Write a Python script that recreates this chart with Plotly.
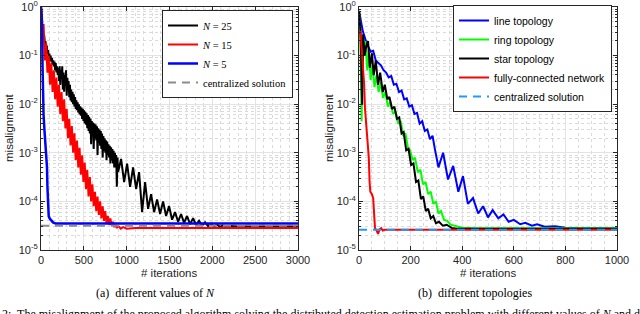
import plotly.graph_objects as go

# ---------------- Left panel: different values of N ----------------
n25_x = [0, 8, 15, 22, 30, 38, 45, 52, 60, 68, 75, 82, 90, 98, 105, 112, 120, 128, 135, 142,
         150, 158, 165, 172, 180, 188, 195, 202, 210, 218, 225, 232, 240, 248, 255, 262, 270, 278, 285, 292,
         300, 308, 315, 322, 330, 338, 345, 352, 360, 368, 375, 383, 390, 398, 405, 413, 420, 428, 435, 443,
         450, 458, 465, 473, 480, 488, 495, 503, 510, 518, 525, 533, 540, 548, 555, 563, 570, 578, 585, 593,
         600, 608, 615, 623, 630, 638, 645, 653, 660, 668, 675, 683, 690, 698, 705, 713, 720, 728, 735, 743,
         750, 758, 765, 773, 780, 788, 795, 803, 810, 818, 825, 833, 840, 848, 855, 863, 870, 878, 885, 893,
         900, 935, 970, 1005, 1040, 1075, 1110, 1145, 1180, 1215, 1250, 1285, 1320, 1355, 1390, 1425, 1460,
         1495, 1530, 1565, 1600, 1635, 1670, 1705, 1740, 1775, 1810, 1845, 1880, 1915, 1950, 1985, 2020,
         2055, 2090, 2125, 2160, 2200, 2300, 3000]
n25_y = [1.0, 0.45, 0.3, 0.35, 0.22, 0.26, 0.17, 0.2, 0.13, 0.16, 0.11, 0.13, 0.095, 0.11, 0.08, 0.1, 0.075, 0.09, 0.065, 0.08,
         0.06, 0.075, 0.05, 0.07, 0.045, 0.06, 0.04, 0.055, 0.03, 0.06, 0.025, 0.05, 0.035, 0.06, 0.02, 0.045, 0.018, 0.04, 0.03, 0.05,
         0.015, 0.035, 0.02, 0.03, 0.014, 0.025, 0.012, 0.02, 0.011, 0.018, 0.01, 0.016, 0.009, 0.014, 0.008, 0.012, 0.0075, 0.011, 0.0068, 0.01,
         0.0062, 0.009, 0.0058, 0.0085, 0.005, 0.008, 0.0045, 0.0075, 0.004, 0.007, 0.0038, 0.0065, 0.0032, 0.006, 0.0028, 0.0055, 0.0025, 0.005, 0.0015, 0.0045,
         0.0022, 0.0042, 0.0012, 0.004, 0.002, 0.0038, 0.0018, 0.0035, 0.0009, 0.0032, 0.0016, 0.003, 0.0014, 0.0028, 0.0012, 0.0025, 0.0008, 0.0022, 0.0011, 0.002,
         0.001, 0.0018, 0.0007, 0.0017, 0.0009, 0.0015, 0.0008, 0.0014, 0.0006, 0.0013, 0.0007, 0.0012, 0.0006, 0.0011, 0.0005, 0.001, 0.0005, 0.0009, 0.0002, 0.0008,
         0.0004, 0.00075, 0.00025, 0.0006, 0.0002, 0.0005, 0.00018, 0.0004, 0.00006, 0.00025, 0.00007, 0.00014, 0.00006, 0.00011, 0.000055, 0.0001, 0.00005,
         0.00008, 0.000042, 0.00006, 0.000038, 0.000055, 0.000036, 0.00005, 0.000034, 0.000045, 0.000033, 0.00004, 0.000032, 0.000037, 0.000031, 0.000035, 0.0000305,
         0.000033, 0.00003, 0.000032, 0.00003, 0.000031, 0.0000305, 0.0000305]

n15_x = [0, 15, 30, 45, 60, 75, 90, 105, 120, 135, 150, 165, 180, 195, 210, 225, 240, 255, 270, 285,
         300, 315, 330, 345, 360, 375, 390, 405, 420, 435, 450, 465, 480, 495, 510, 525, 540, 555, 570, 585,
         600, 615, 630, 645, 660, 675, 690, 705, 720, 735, 750, 765, 780, 795, 810, 825, 840, 855, 870, 885,
         900, 930, 960, 1000, 1100, 3000]
n15_y = [1.0, 0.316, 0.447, 0.0794, 0.178, 0.0447, 0.1, 0.0251, 0.0708, 0.0178, 0.0501, 0.0126, 0.0355, 0.00891, 0.0251, 0.00631, 0.0178, 0.00447, 0.0126, 0.00316,
         0.00794, 0.002, 0.00501, 0.00141, 0.00355, 0.001, 0.00251, 0.000708, 0.00178, 0.000501, 0.00126, 0.000355, 0.000891, 0.000251, 0.000631, 0.000178, 0.000447, 0.000126, 0.000316, 0.0001,
         0.000224, 7.94e-5, 0.000158, 6.31e-5, 0.000126, 5.25e-5, 0.0001, 4.47e-5, 7.94e-5, 3.98e-5, 6.31e-5, 3.55e-5, 5.01e-5, 3.31e-5, 4.47e-5, 3.16e-5, 3.8e-5, 2.95e-5, 3.39e-5, 2.82e-5,
         3.16e-5, 2.75e-5, 2.95e-5, 2.75e-5, 2.82e-5, 2.82e-5]

n5_x = [0, 6, 12, 18, 23, 30, 40, 50, 60, 70, 75, 82, 90, 100, 120, 140, 170, 3000]
n5_y = [1.0, 0.7, 0.5, 0.06, 0.012, 0.006, 0.003, 0.0018, 0.0012, 0.0005, 0.0002, 0.00006, 0.00005, 0.000045, 0.00004, 0.000037, 0.000035, 0.000035]

cent_left_x = [0, 3000]
cent_left_y = [3.15e-5, 3.15e-5]

left_xticks = [0, 500, 1000, 1500, 2000, 2500, 3000]

# ---------------- Right panel: different topologies ----------------
line_x = [0, 15, 30, 45, 55, 65, 75, 85, 95, 105, 115, 125, 135, 145, 155, 165, 175, 185, 195, 205,
          215, 225, 235, 245, 255, 265, 275, 285, 295, 308, 326, 345, 365, 385, 403, 422, 442, 462, 481, 500,
          518, 540, 560, 580, 600, 625, 645, 670, 690, 720, 760, 800, 850, 1000]
line_y = [0.832, 0.316, 0.178, 0.120, 0.126, 0.0794, 0.0708, 0.0631, 0.0501, 0.0447, 0.0355, 0.038, 0.0251, 0.0263, 0.0178, 0.0191, 0.0126, 0.0132, 0.00891, 0.00955,
          0.00631, 0.00661, 0.00398, 0.00447, 0.00282, 0.00302, 0.00191, 0.00224, 0.00112, 0.000501, 0.001, 0.000282, 0.000537, 0.000158, 0.000331, 8.91e-5, 0.000117, 5.62e-5, 7.94e-5, 4.68e-5,
          6.61e-5, 4.47e-5, 5.37e-5, 3.8e-5, 4.17e-5, 3.39e-5, 3.63e-5, 3.16e-5, 3.39e-5, 3.02e-5, 3.09e-5, 2.88e-5, 2.82e-5, 2.78e-5]

ring_x = [0, 5, 10, 15, 20, 25, 32, 38, 45, 52, 60, 68, 76, 85, 93, 102, 112, 122, 132, 142,
          152, 162, 171, 180, 190, 198, 208, 217, 228, 238, 248, 258, 268, 278, 288, 298, 308, 318, 330, 342,
          355, 370, 400, 450, 1000]
ring_y = [0.794, 0.251, 0.00447, 0.158, 0.1, 0.2, 0.0501, 0.126, 0.0316, 0.0631, 0.0224, 0.0398, 0.0178, 0.0282, 0.0135, 0.0178, 0.00891, 0.0112, 0.00631, 0.00708,
          0.00398, 0.00447, 0.00224, 0.00251, 0.00126, 0.00112, 0.000708, 0.000794, 0.000398, 0.000447, 0.000224, 0.000251, 0.000141, 0.000158, 8.91e-5, 1e-4, 5.62e-5, 6.31e-5, 4.17e-5, 3.98e-5,
          3.31e-5, 3.16e-5, 2.88e-5, 2.8e-5, 2.8e-5]

star_x = [0, 6, 12, 16, 22, 28, 35, 42, 50, 57, 65, 74, 82, 92, 100, 110, 118, 128, 137, 147,
          156, 165, 173, 183, 192, 202, 211, 221, 230, 240, 249, 259, 268, 278, 288, 298, 310, 325, 340, 360,
          380, 1000]
star_y = [0.832, 0.316, 0.01, 0.275, 0.1, 0.158, 0.2, 0.0562, 0.112, 0.0398, 0.0794, 0.0251, 0.0447, 0.0178, 0.0251, 0.0126, 0.0141, 0.00794, 0.00891, 0.00501,
          0.00537, 0.00251, 0.00269, 0.00112, 0.0012, 0.000562, 0.000603, 0.000251, 0.000269, 0.000112, 0.000126, 6.31e-5, 7.08e-5, 4.47e-5, 5.01e-5, 3.55e-5, 3.8e-5, 3.16e-5, 3.31e-5, 2.82e-5,
          2.75e-5, 2.72e-5]

full_x = [0, 5, 10, 16, 20, 23, 27, 31, 35, 38, 41, 44, 50, 55, 58, 62, 68, 74, 80, 86, 92, 100, 1000]
full_y = [0.282, 0.316, 0.141, 0.0562, 0.0251, 0.00851, 0.00398, 0.00174, 0.001, 0.000794, 0.000251, 0.000158, 0.000141, 0.000117,
          6.31e-5, 2.82e-5, 2.51e-5, 2.14e-5, 2.69e-5, 2.82e-5, 2.51e-5, 2.6e-5, 2.6e-5]

cent_right_x = [0, 1000]
cent_right_y = [2.6e-5, 2.6e-5]

right_xticks = [0, 200, 400, 600, 800, 1000]

y_tickvals = [1e-5, 1e-4, 1e-3, 1e-2, 1e-1, 1]
y_ticktext = ["10<sup>-5</sup>", "10<sup>-4</sup>", "10<sup>-3</sup>", "10<sup>-2</sup>", "10<sup>-1</sup>", "10<sup>0</sup>"]

W, H = 640, 314
fig = go.Figure()

def add(x, y, name, color, width, xa, ya, legend, dash="solid"):
    fig.add_trace(go.Scatter(x=x, y=y, mode="lines", name=name, xaxis=xa, yaxis=ya, legend=legend,
                             line=dict(color=color, width=width, dash=dash)))

add(n25_x, n25_y, "<i>N</i> = 25", "#000000", 2, "x", "y", "legend")
add(n15_x, n15_y, "<i>N</i> = 15", "#ff0000", 2, "x", "y", "legend")
add(n5_x, n5_y, "<i>N</i> = 5", "#0000ff", 2.5, "x", "y", "legend")
add(cent_left_x, cent_left_y, "centralized solution", "#8c8c8c", 2, "x", "y", "legend", dash="8px,6px")

add(line_x, line_y, "line topology", "#0000ff", 2, "x2", "y2", "legend2")
add(ring_x, ring_y, "ring topology", "#00ff00", 2, "x2", "y2", "legend2")
add(star_x, star_y, "star topology", "#000000", 2, "x2", "y2", "legend2")
add(full_x, full_y, "fully-connected network", "#ff0000", 2, "x2", "y2", "legend2")
add(cent_right_x, cent_right_y, "centralized solution", "#1e9bff", 2, "x2", "y2", "legend2", dash="8px,6px")

axcol = "#262626"
tickfont = dict(family="Liberation Sans, Arial", size=11, color=axcol)
common_x = dict(showline=True, linecolor=axcol, linewidth=1, mirror="ticks", ticks="inside", ticklen=4,
                tickcolor=axcol, showgrid=True, gridcolor="#e3e3e3", gridwidth=1, zeroline=False,
                tickfont=tickfont, automargin=False, ticklabeloverflow="allow")
common_y = dict(common_x, type="log", range=[-5.0005, 0.0005], tickvals=y_tickvals, ticktext=y_ticktext,
                minor=dict(dtick="D1", showgrid=True, griddash="dot", gridcolor="#dadada",
                           ticks="inside", ticklen=2, tickcolor=axcol))

x1d = [41 / W, 298 / W]
x2d = [359 / W, 617 / W]
yd = [1 - 250 / H, 1 - 7 / H]

fig.update_layout(
    width=W, height=H, margin=dict(l=0, r=0, t=0, b=0, autoexpand=False),
    paper_bgcolor="white", plot_bgcolor="white",
    xaxis=dict(common_x, domain=x1d, anchor="y", range=[0, 3000], tickvals=left_xticks,
               minor=dict(dtick=100, showgrid=True, griddash="dot", gridcolor="#dadada")),
    yaxis=dict(common_y, domain=yd, anchor="x"),
    xaxis2=dict(common_x, domain=x2d, anchor="y2", range=[0, 1000], tickvals=right_xticks,
                minor=dict(dtick=50, showgrid=True, griddash="dot", gridcolor="#dadada")),
    yaxis2=dict(common_y, domain=yd, anchor="x2"),
    legend=dict(x=162 / W, y=1 - 10 / H, xanchor="left", yanchor="top", bgcolor="white",
                bordercolor=axcol, borderwidth=1, tracegroupgap=0,
                font=dict(family="Liberation Serif, Times New Roman", size=10.5, color="#000000")),
    legend2=dict(x=453 / W, y=1 - 5 / H, xanchor="left", yanchor="top", bgcolor="white",
                 bordercolor=axcol, borderwidth=1, tracegroupgap=0,
                 font=dict(family="Liberation Sans, Arial", size=10.5, color="#000000")),
    showlegend=True,
)

ann_font = dict(family="Liberation Sans, Arial", size=11.5, color=axcol)
serif = dict(family="Liberation Serif, Times New Roman", size=12, color="#000000")
anns = [
    dict(text="# iterations", x=169 / W, y=1 - 273 / H, font=ann_font),
    dict(text="# iterations", x=488 / W, y=1 - 273 / H, font=ann_font),
    dict(text="misalignment", x=9 / W, y=1 - 128 / H, textangle=-90, font=ann_font),
    dict(text="misalignment", x=329 / W, y=1 - 128 / H, textangle=-90, font=ann_font),
    dict(text="(a)  different values of <i>N</i>", x=155 / W, y=1 - 293 / H, font=serif),
    dict(text="(b)  different topologies", x=475 / W, y=1 - 293 / H, font=serif),
]
for a in anns:
    fig.add_annotation(xref="paper", yref="paper", showarrow=False, xanchor="center", yanchor="middle", **a)

fig.add_annotation(xref="paper", yref="paper", showarrow=False, xanchor="left", yanchor="middle",
                   x=0, y=1 - 314 / H,
                   text="2:  The misalignment of the proposed algorithm solving the distributed detection estimation problem with different values of <i>N</i> and different topologies",
                   font=dict(family="Liberation Serif, Times New Roman", size=12, color="#000000"))

fig.write_html("out.html", config={"displayModeBar": False},
               post_script="document.body.style.margin='0px';document.body.style.overflow='hidden';")
